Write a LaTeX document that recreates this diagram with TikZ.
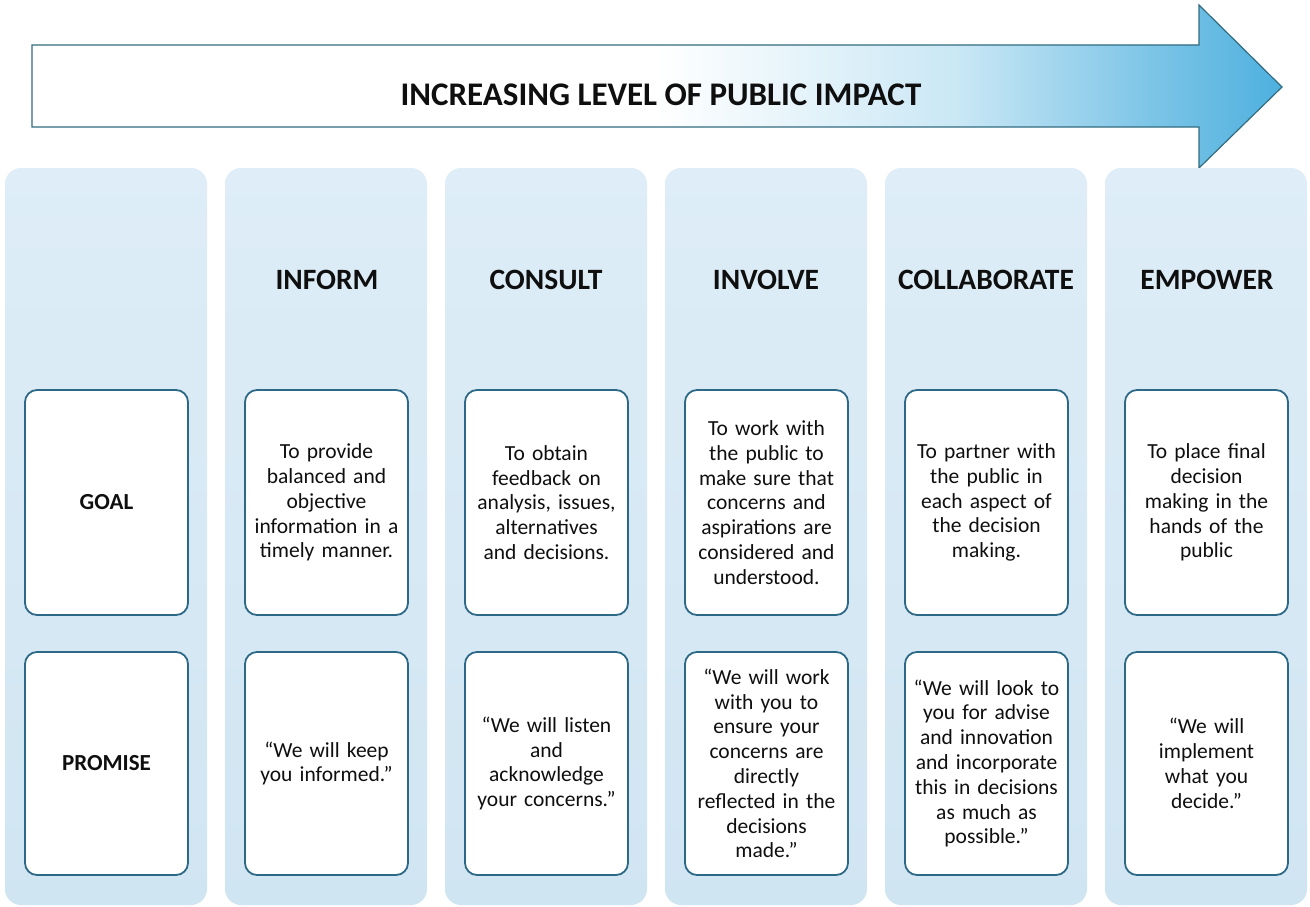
\documentclass[tikz,border=0pt]{standalone}
\usepackage{fontspec}
\setmainfont{Carlito}
\definecolor{arrowblue}{RGB}{78,176,222}
\definecolor{arrowedge}{RGB}{50,108,128}
\definecolor{colbot}{RGB}{208,229,242}
\definecolor{coltop}{RGB}{222,237,247}
\definecolor{boxedge}{RGB}{45,105,135}
\definecolor{ink}{RGB}{15,15,15}
\pgfdeclarehorizontalshading{arrowshade}{100bp}{color(0bp)=(white); color(25bp)=(white); color(50bp)=(white); color(62bp)=(arrowblue!30); color(70bp)=(arrowblue!75); color(75bp)=(arrowblue); color(100bp)=(arrowblue)}
\tikzset{
  colbg/.style={rectangle, rounded corners=16pt, top color=coltop, bottom color=colbot, draw=none, minimum width=202pt, minimum height=737pt, inner sep=0pt},
  headtxt/.style={font=\fontsize{29.5}{33}\selectfont\bfseries, text=ink},
  card/.style={rectangle, rounded corners=12pt, draw=boxedge, line width=1.8pt, fill=white, minimum width=163pt, text width=156pt, align=center, inner sep=0pt, font=\fontsize{21.5}{24.8}\selectfont, text=ink},
  goalcard/.style={card, minimum height=225pt},
  promcard/.style={card, minimum height=223pt},
  rowlabel/.style={font=\fontsize{23}{26}\selectfont\bfseries}
}
\begin{document}
\begin{tikzpicture}[x=1pt, y=-1pt]
\useasboundingbox (0,0) rectangle (1310,907);
\fill[white] (0,0) rectangle (1310,907);
% arrow
\path[shading=arrowshade, draw=arrowedge, line width=1.2pt, line join=miter]
  (32,45) -- (1199,45) -- (1199,5) -- (1282,87) -- (1199,168) -- (1199,127) -- (32,127) -- cycle;
\node[font=\fontsize{33}{38}\selectfont\bfseries, text=ink] (title) at (661,95) {INCREASING LEVEL OF PUBLIC IMPACT};
% columns
\foreach \i in {0,...,5} {
  \node[colbg] (col\i) at ({106+220*\i},536.5) {};
}
% headers
\node[headtxt] (h1) at (327,280) {INFORM};
\node[headtxt] (h2) at (546,280) {CONSULT};
\node[headtxt] (h3) at (766,280) {INVOLVE};
\node[headtxt] (h4) at (986,280) {COLLABORATE};
\node[headtxt] (h5) at (1207,280) {EMPOWER};
% goal row
\node[goalcard] (g0) at (106.5,502.5) {\fontsize{23}{26}\selectfont\textbf{GOAL}};
\node[goalcard] (g1) at (326.5,502.5) {To provide\\balanced and\\objective\\information in a\\timely manner.};
\node[goalcard] (g2) at (546.5,502.5) {To obtain\\feedback on\\analysis, issues,\\alternatives\\and decisions.};
\node[goalcard] (g3) at (766.5,502.5) {To work with\\the public to\\make sure that\\concerns and\\aspirations are\\considered and\\understood.};
\node[goalcard] (g4) at (986.5,502.5) {To partner with\\the public in\\each aspect of\\the decision\\making.};
\node[goalcard] (g5) at (1206.5,502.5) {To place final\\decision\\making in the\\hands of the\\public};
% promise row
\node[promcard] (p0) at (106.5,763.5) {\fontsize{23}{26}\selectfont\textbf{PROMISE}};
\node[promcard] (p1) at (326.5,763.5) {“We will keep\\you informed.”};
\node[promcard] (p2) at (546.5,763.5) {“We will listen\\and\\acknowledge\\your concerns.”};
\node[promcard] (p3) at (766.5,763.5) {“We will work\\with you to\\ensure your\\concerns are\\directly\\reflected in the\\decisions\\made.”};
\node[promcard] (p4) at (986.5,763.5) {“We will look to\\you for advise\\and innovation\\and incorporate\\this in decisions\\as much as\\possible.”};
\node[promcard] (p5) at (1206.5,763.5) {“We will\\implement\\what you\\decide.”};
\end{tikzpicture}
\end{document}
